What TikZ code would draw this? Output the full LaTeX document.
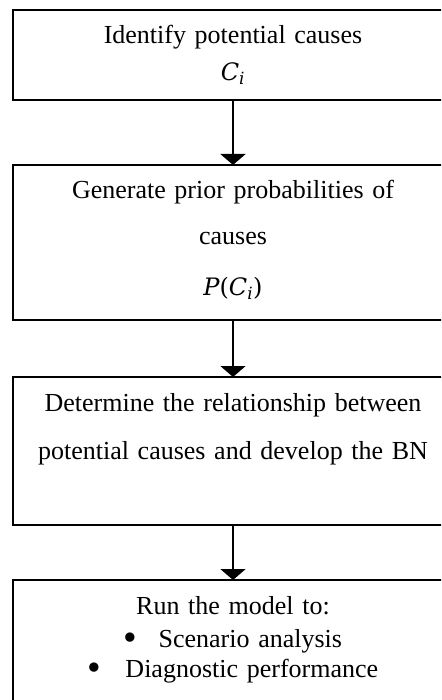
\documentclass[tikz,border=0pt]{standalone}
\usepackage{fontspec}
\setmainfont{Liberation Serif}
\newfontfamily\eqfont{DejaVu Serif}
\usetikzlibrary{arrows.meta,positioning}
\newcommand\eqvar[1]{{\eqfont\fontsize{24pt}{30pt}\selectfont #1}}
\newcommand\listdot{\raisebox{-0.15em}{\scalebox{1.5}{\textbullet}}}
\tikzset{
  stepbox/.style={draw, line width=1.8pt, inner sep=0pt, outer sep=0pt,
    text width=440pt, align=center, text height=34pt,
    font=\fontsize{26pt}{30pt}\selectfont},
  flow/.style={line width=1.8pt, -{Triangle[width=25pt,length=11pt]}},
}
\begin{document}
\begin{tikzpicture}[x=1pt,y=1pt]
  \useasboundingbox (0,-700) rectangle (441,0);
  \clip (0,-700) rectangle (441,0);
  \node[stepbox, text depth=56pt, anchor=north] (cause) at (233,-10)
    {Identify potential causes\\[7pt]\eqvar{\itshape C\textsubscript{i}}};
  \node[stepbox, text depth=121pt, below=65pt of cause] (prior)
    {Generate prior probabilities of\\[16pt]causes\\[21pt]%
     \eqvar{\itshape P\upshape(\itshape C\textsubscript{i}\upshape)}};
  \node[stepbox, text depth=114pt, below=57pt of prior] (bn)
    {Determine the relationship between\\[18pt]potential causes and develop the BN};
  \node[stepbox, text depth=125pt, below=55pt of bn] (run)
    {Run the model to:\\[3pt]\listdot\hspace{21pt}Scenario analysis\\
     \listdot\hspace{24pt}Diagnostic performance};
  % arrows between steps
  \draw[flow] (cause) -- (prior);
  \draw[flow] (prior) -- (bn);
  \draw[flow] (bn) -- (run);
\end{tikzpicture}
\end{document}
